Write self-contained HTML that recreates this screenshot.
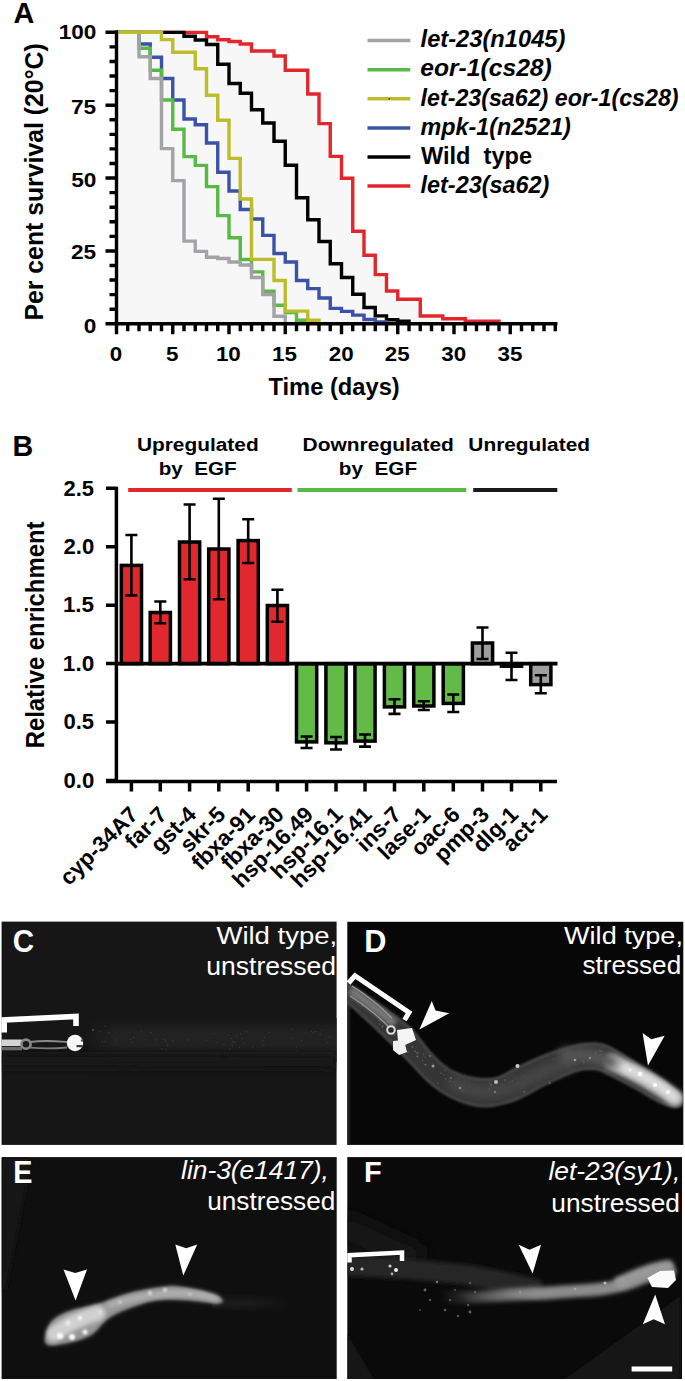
<!DOCTYPE html><html><head><meta charset="utf-8"><style>html,body{margin:0;padding:0;background:#fff;}svg{display:block;}text{font-family:"Liberation Sans",sans-serif;}</style></head><body>
<svg width="685" height="1381" viewBox="0 0 685 1381">
<defs><filter id="b1" x="-20%" y="-20%" width="140%" height="140%"><feGaussianBlur stdDeviation="1.2"/></filter><filter id="b2" x="-20%" y="-50%" width="140%" height="200%"><feGaussianBlur stdDeviation="2.5"/></filter><filter id="b3" x="-20%" y="-50%" width="140%" height="200%"><feGaussianBlur stdDeviation="5"/></filter></defs>
<rect width="685" height="1381" fill="#fff"/>
<text x="13.48" y="23.30" font-size="29.96" font-weight="bold" fill="#000" textLength="20.80" lengthAdjust="spacingAndGlyphs" xml:space="preserve">A</text>
<path d="M116.50,323.8V32.40H206.50V36.80H217.75V39.70H229.00V41.50H240.25V44.00H251.50V51.00H274.00V56.00H285.25V70.20H307.75V94.00H319.00V123.60H330.25V156.40H341.50V178.20H352.75V231.20H364.00V255.30H375.25V274.60H386.50V291.00H397.75V299.20H420.25V316.00H442.75V318.70H465.25V321.20H499.00V323.80Z" fill="#f7f7f7"/>
<path d="M116.50,32.40H206.50V36.80H217.75V39.70H229.00V41.50H240.25V44.00H251.50V51.00H274.00V56.00H285.25V70.20H307.75V94.00H319.00V123.60H330.25V156.40H341.50V178.20H352.75V231.20H364.00V255.30H375.25V274.60H386.50V291.00H397.75V299.20H420.25V316.00H442.75V318.70H465.25V321.20H499.00V323.80" fill="none" stroke="#e1262c" stroke-width="3.4" stroke-linejoin="miter" stroke-linecap="butt"/>
<path d="M116.50,32.40H184.00V36.30H195.25V40.00H206.50V44.50H217.75V64.20H229.00V83.50H240.25V93.30H251.50V109.80H262.75V123.00H274.00V141.30H285.25V165.30H296.50V197.80H307.75V219.70H319.00V241.50H330.25V263.70H341.50V277.50H352.75V294.30H364.00V307.50H375.25V315.90H386.50V319.80H397.75V321.20H409.00V323.80" fill="none" stroke="#000" stroke-width="3.4" stroke-linejoin="miter" stroke-linecap="butt"/>
<path d="M116.50,32.30H139.00V44.00H150.25V57.30H161.50V78.50H172.75V100.00H184.00V119.00H195.25V124.80H206.50V143.00H217.75V172.20H229.00V191.00H240.25V209.50H251.50V219.00H262.75V235.40H274.00V253.50H285.25V262.00H296.50V280.50H307.75V288.60H319.00V298.00H330.25V308.40H341.50V311.40H352.75V315.10H364.00V319.50H375.25V322.00H386.50V323.80" fill="none" stroke="#3a52a8" stroke-width="3.4" stroke-linejoin="miter" stroke-linecap="butt"/>
<path d="M116.50,32.30H139.00V48.20H150.25V70.20H161.50V100.00H172.75V129.20H184.00V156.60H195.25V165.40H206.50V186.60H217.75V215.60H229.00V237.80H240.25V259.50H251.50V271.90H262.75V291.30H274.00V305.30H285.25V312.50H296.50V320.30H307.75V323.80" fill="none" stroke="#58b944" stroke-width="3.4" stroke-linejoin="miter" stroke-linecap="butt"/>
<path d="M116.50,32.30H139.00V56.70H150.25V78.50H161.50V148.60H172.75V180.60H184.00V241.10H195.25V251.40H206.50V257.20H217.75V258.50H229.00V262.00H240.25V265.00H251.50V277.50H262.75V294.50H274.00V316.30H285.25V323.80" fill="none" stroke="#a2a2a7" stroke-width="3.4" stroke-linejoin="miter" stroke-linecap="butt"/>
<path d="M116.50,32.30H161.50V39.60H172.75V52.30H195.25V68.70H206.50V95.30H217.75V120.30H229.00V158.40H240.25V199.00H251.50V259.40H274.00V280.50H285.25V311.10H307.75V320.30H319.00V323.80" fill="none" stroke="#bdbd2b" stroke-width="3.4" stroke-linejoin="miter" stroke-linecap="butt"/>
<path d="M116.5,30.3V325.6 M105.5,323.8H557.5 M105.5,323.80H116.5 M109.5,309.23H116.5 M109.5,294.65H116.5 M109.5,280.07H116.5 M109.5,265.50H116.5 M105.5,250.93H116.5 M109.5,236.35H116.5 M109.5,221.78H116.5 M109.5,207.20H116.5 M109.5,192.62H116.5 M105.5,178.05H116.5 M109.5,163.48H116.5 M109.5,148.90H116.5 M109.5,134.33H116.5 M109.5,119.75H116.5 M105.5,105.18H116.5 M109.5,90.60H116.5 M109.5,76.03H116.5 M109.5,61.45H116.5 M109.5,46.88H116.5 M105.5,32.30H116.5 M116.50,323.8V334.3 M127.75,323.8V331.2 M139.00,323.8V331.2 M150.25,323.8V331.2 M161.50,323.8V331.2 M172.75,323.8V334.3 M184.00,323.8V331.2 M195.25,323.8V331.2 M206.50,323.8V331.2 M217.75,323.8V331.2 M229.00,323.8V334.3 M240.25,323.8V331.2 M251.50,323.8V331.2 M262.75,323.8V331.2 M274.00,323.8V331.2 M285.25,323.8V334.3 M296.50,323.8V331.2 M307.75,323.8V331.2 M319.00,323.8V331.2 M330.25,323.8V331.2 M341.50,323.8V334.3 M352.75,323.8V331.2 M364.00,323.8V331.2 M375.25,323.8V331.2 M386.50,323.8V331.2 M397.75,323.8V334.3 M409.00,323.8V331.2 M420.25,323.8V331.2 M431.50,323.8V331.2 M442.75,323.8V331.2 M454.00,323.8V334.3 M465.25,323.8V331.2 M476.50,323.8V331.2 M487.75,323.8V331.2 M499.00,323.8V331.2 M510.25,323.8V334.3 M521.50,323.8V331.2 M532.75,323.8V331.2 M544.00,323.8V331.2 M555.25,323.8V331.2" stroke="#000" stroke-width="3.4" fill="none"/>
<text x="58.65" y="39.10" font-size="21.10" font-weight="bold" fill="#000" textLength="37.78" lengthAdjust="spacingAndGlyphs" xml:space="preserve">100</text>
<text x="70.99" y="113.65" font-size="21.10" font-weight="bold" fill="#000" textLength="25.18" lengthAdjust="spacingAndGlyphs" xml:space="preserve">75</text>
<text x="71.27" y="186.85" font-size="21.10" font-weight="bold" fill="#000" textLength="25.18" lengthAdjust="spacingAndGlyphs" xml:space="preserve">50</text>
<text x="70.99" y="259.05" font-size="21.10" font-weight="bold" fill="#000" textLength="25.18" lengthAdjust="spacingAndGlyphs" xml:space="preserve">25</text>
<text x="83.84" y="332.65" font-size="21.10" font-weight="bold" fill="#000" textLength="12.59" lengthAdjust="spacingAndGlyphs" xml:space="preserve">0</text>
<text x="109.89" y="360.65" font-size="21.10" font-weight="bold" fill="#000" textLength="12.44" lengthAdjust="spacingAndGlyphs" xml:space="preserve">0</text>
<text x="166.12" y="360.55" font-size="21.10" font-weight="bold" fill="#000" textLength="12.44" lengthAdjust="spacingAndGlyphs" xml:space="preserve">5</text>
<text x="215.94" y="360.65" font-size="21.10" font-weight="bold" fill="#000" textLength="24.88" lengthAdjust="spacingAndGlyphs" xml:space="preserve">10</text>
<text x="272.05" y="360.55" font-size="21.10" font-weight="bold" fill="#000" textLength="24.88" lengthAdjust="spacingAndGlyphs" xml:space="preserve">15</text>
<text x="328.74" y="360.65" font-size="21.10" font-weight="bold" fill="#000" textLength="24.88" lengthAdjust="spacingAndGlyphs" xml:space="preserve">20</text>
<text x="384.85" y="360.65" font-size="21.10" font-weight="bold" fill="#000" textLength="24.88" lengthAdjust="spacingAndGlyphs" xml:space="preserve">25</text>
<text x="441.38" y="360.63" font-size="21.10" font-weight="bold" fill="#000" textLength="24.88" lengthAdjust="spacingAndGlyphs" xml:space="preserve">30</text>
<text x="497.49" y="360.63" font-size="21.10" font-weight="bold" fill="#000" textLength="24.88" lengthAdjust="spacingAndGlyphs" xml:space="preserve">35</text>
<text x="268.46" y="395.49" font-size="23.16" font-weight="bold" fill="#000" textLength="131.30" lengthAdjust="spacingAndGlyphs" xml:space="preserve">Time (days)</text>
<text transform="translate(42.69,320.57) rotate(-90)" x="0" y="0" font-size="25.09" font-weight="bold" fill="#000" textLength="277.33" lengthAdjust="spacingAndGlyphs" xml:space="preserve">Per cent survival (20°C)</text>
<path d="M367.5,40.60H410.3" stroke="#a2a2a7" stroke-width="3.5"/>
<text x="420.59" y="47.30" font-size="23.30" font-weight="bold" font-style="italic" fill="#000" textLength="144.86" lengthAdjust="spacingAndGlyphs" xml:space="preserve">let-23(n1045)</text>
<path d="M367.5,69.70H410.3" stroke="#58b944" stroke-width="3.5"/>
<text x="420.26" y="76.40" font-size="23.30" font-weight="bold" font-style="italic" fill="#000" textLength="131.51" lengthAdjust="spacingAndGlyphs" xml:space="preserve">eor-1(cs28)</text>
<path d="M367.5,98.80H410.3" stroke="#bdbd2b" stroke-width="3.5"/>
<rect x="388.6" y="98.10" width="1.4" height="1.4" fill="#222"/>
<text x="420.59" y="105.50" font-size="23.30" font-weight="bold" font-style="italic" fill="#000" textLength="257.99" lengthAdjust="spacingAndGlyphs" xml:space="preserve">let-23(sa62) eor-1(cs28)</text>
<path d="M367.5,127.90H410.3" stroke="#3a52a8" stroke-width="3.5"/>
<text x="420.59" y="134.60" font-size="23.30" font-weight="bold" font-style="italic" fill="#000" textLength="150.29" lengthAdjust="spacingAndGlyphs" xml:space="preserve">mpk-1(n2521)</text>
<path d="M367.5,157.00H410.3" stroke="#000" stroke-width="3.5"/>
<text x="420.94" y="163.70" font-size="23.30" font-weight="bold" fill="#000" textLength="111.05" lengthAdjust="spacingAndGlyphs" xml:space="preserve">Wild  type</text>
<path d="M367.5,186.10H410.3" stroke="#e1262c" stroke-width="3.5"/>
<text x="420.59" y="192.80" font-size="23.30" font-weight="bold" font-style="italic" fill="#000" textLength="128.72" lengthAdjust="spacingAndGlyphs" xml:space="preserve">let-23(sa62)</text>
<text x="12.56" y="456.20" font-size="30.25" font-weight="bold" fill="#000" textLength="20.72" lengthAdjust="spacingAndGlyphs" xml:space="preserve">B</text>
<text x="136.95" y="451.40" font-size="18.90" font-weight="bold" fill="#000" textLength="121.74" lengthAdjust="spacingAndGlyphs" xml:space="preserve">Upregulated</text>
<text x="158.66" y="474.70" font-size="18.62" font-weight="bold" fill="#000" textLength="77.98" lengthAdjust="spacingAndGlyphs" xml:space="preserve">by  EGF</text>
<text x="302.59" y="451.40" font-size="18.90" font-weight="bold" fill="#000" textLength="151.28" lengthAdjust="spacingAndGlyphs" xml:space="preserve">Downregulated</text>
<text x="338.85" y="474.70" font-size="18.62" font-weight="bold" fill="#000" textLength="78.19" lengthAdjust="spacingAndGlyphs" xml:space="preserve">by  EGF</text>
<text x="468.35" y="451.40" font-size="18.90" font-weight="bold" fill="#000" textLength="121.64" lengthAdjust="spacingAndGlyphs" xml:space="preserve">Unregulated</text>
<path d="M128.2,490H291.8" stroke="#e1262c" stroke-width="4.2"/>
<path d="M297.5,490H466.3" stroke="#58b944" stroke-width="4.2"/>
<path d="M473.2,490H557.3" stroke="#1a1a1a" stroke-width="4.2"/>
<path d="M116.4,486.8V782.8 M106,781.4H557 M106,488.25H116.4 M106,546.70H116.4 M106,605.15H116.4 M106,663.60H116.4 M106,722.05H116.4 M106,780.50H116.4" stroke="#000" stroke-width="3.5" fill="none"/>
<text x="63.53" y="495.68" font-size="21.60" font-weight="bold" fill="#000" textLength="30.47" lengthAdjust="spacingAndGlyphs" xml:space="preserve">2.5</text>
<text x="63.53" y="554.12" font-size="21.60" font-weight="bold" fill="#000" textLength="30.76" lengthAdjust="spacingAndGlyphs" xml:space="preserve">2.0</text>
<text x="62.90" y="612.47" font-size="21.60" font-weight="bold" fill="#000" textLength="31.12" lengthAdjust="spacingAndGlyphs" xml:space="preserve">1.5</text>
<text x="62.89" y="671.02" font-size="21.60" font-weight="bold" fill="#000" textLength="31.42" lengthAdjust="spacingAndGlyphs" xml:space="preserve">1.0</text>
<text x="63.42" y="729.47" font-size="21.60" font-weight="bold" fill="#000" textLength="30.59" lengthAdjust="spacingAndGlyphs" xml:space="preserve">0.5</text>
<text x="63.41" y="787.92" font-size="21.60" font-weight="bold" fill="#000" textLength="30.88" lengthAdjust="spacingAndGlyphs" xml:space="preserve">0.0</text>
<text transform="translate(44.14,748.31) rotate(-90)" x="0" y="0" font-size="26.39" font-weight="bold" fill="#000" textLength="226.74" lengthAdjust="spacingAndGlyphs" xml:space="preserve">Relative enrichment</text>
<rect x="121.30" y="565.40" width="20.20" height="98.30" fill="#e0282e" stroke="#000" stroke-width="3.5"/>
<rect x="150.20" y="612.50" width="20.20" height="51.20" fill="#e0282e" stroke="#000" stroke-width="3.5"/>
<rect x="179.50" y="542.00" width="20.20" height="121.70" fill="#e0282e" stroke="#000" stroke-width="3.5"/>
<rect x="208.70" y="549.00" width="20.20" height="114.70" fill="#e0282e" stroke="#000" stroke-width="3.5"/>
<rect x="238.10" y="540.60" width="20.20" height="123.10" fill="#e0282e" stroke="#000" stroke-width="3.5"/>
<rect x="267.30" y="605.50" width="20.20" height="58.20" fill="#e0282e" stroke="#000" stroke-width="3.5"/>
<rect x="296.50" y="663.70" width="20.20" height="78.20" fill="#62bb47" stroke="#000" stroke-width="3.5"/>
<rect x="325.90" y="663.70" width="20.20" height="79.10" fill="#62bb47" stroke="#000" stroke-width="3.5"/>
<rect x="354.90" y="663.70" width="20.20" height="77.40" fill="#62bb47" stroke="#000" stroke-width="3.5"/>
<rect x="384.40" y="663.70" width="20.20" height="43.20" fill="#62bb47" stroke="#000" stroke-width="3.5"/>
<rect x="413.70" y="663.70" width="20.20" height="42.30" fill="#62bb47" stroke="#000" stroke-width="3.5"/>
<rect x="443.20" y="663.70" width="20.20" height="39.70" fill="#62bb47" stroke="#000" stroke-width="3.5"/>
<rect x="472.40" y="643.00" width="20.20" height="20.70" fill="#9e9ea2" stroke="#000" stroke-width="3.5"/>
<rect x="501.40" y="663.70" width="20.20" height="2.50" fill="#9e9ea2" stroke="#000" stroke-width="3.5"/>
<rect x="530.70" y="663.70" width="20.20" height="20.90" fill="#9e9ea2" stroke="#000" stroke-width="3.5"/>
<path d="M131.40,535.00V595.40M125.40,535.00H137.40M125.40,595.40H137.40" stroke="#000" stroke-width="2.6" fill="none"/>
<path d="M160.30,601.50V623.20M154.30,601.50H166.30M154.30,623.20H166.30" stroke="#000" stroke-width="2.6" fill="none"/>
<path d="M189.60,504.50V579.30M183.60,504.50H195.60M183.60,579.30H195.60" stroke="#000" stroke-width="2.6" fill="none"/>
<path d="M218.80,498.70V599.20M212.80,498.70H224.80M212.80,599.20H224.80" stroke="#000" stroke-width="2.6" fill="none"/>
<path d="M248.20,519.20V563.00M242.20,519.20H254.20M242.20,563.00H254.20" stroke="#000" stroke-width="2.6" fill="none"/>
<path d="M277.40,589.80V621.80M271.40,589.80H283.40M271.40,621.80H283.40" stroke="#000" stroke-width="2.6" fill="none"/>
<path d="M306.60,736.50V748.00M300.60,736.50H312.60M300.60,748.00H312.60" stroke="#000" stroke-width="2.6" fill="none"/>
<path d="M336.00,737.00V749.50M330.00,737.00H342.00M330.00,749.50H342.00" stroke="#000" stroke-width="2.6" fill="none"/>
<path d="M365.00,734.50V746.60M359.00,734.50H371.00M359.00,746.60H371.00" stroke="#000" stroke-width="2.6" fill="none"/>
<path d="M394.50,699.30V713.90M388.50,699.30H400.50M388.50,713.90H400.50" stroke="#000" stroke-width="2.6" fill="none"/>
<path d="M423.80,701.30V710.00M417.80,701.30H429.80M417.80,710.00H429.80" stroke="#000" stroke-width="2.6" fill="none"/>
<path d="M453.30,694.50V712.00M447.30,694.50H459.30M447.30,712.00H459.30" stroke="#000" stroke-width="2.6" fill="none"/>
<path d="M482.50,627.50V659.00M476.50,627.50H488.50M476.50,659.00H488.50" stroke="#000" stroke-width="2.6" fill="none"/>
<path d="M511.50,652.80V680.00M505.50,652.80H517.50M505.50,680.00H517.50" stroke="#000" stroke-width="2.6" fill="none"/>
<path d="M540.80,675.30V693.20M534.80,675.30H546.80M534.80,693.20H546.80" stroke="#000" stroke-width="2.6" fill="none"/>
<path d="M116.4,663.7H557.5" stroke="#000" stroke-width="3.8"/>
<path d="M131.40,781.4V791.5 M160.30,781.4V791.5 M189.60,781.4V791.5 M218.80,781.4V791.5 M248.20,781.4V791.5 M277.40,781.4V791.5 M306.60,781.4V791.5 M336.00,781.4V791.5 M365.00,781.4V791.5 M394.50,781.4V791.5 M423.80,781.4V791.5 M453.30,781.4V791.5 M482.50,781.4V791.5 M511.50,781.4V791.5 M540.80,781.4V791.5" stroke="#000" stroke-width="3.5"/>
<text transform="translate(139.40,816) rotate(-45)" font-size="22.4" font-weight="bold" text-anchor="end">cyp-34A7</text>
<text transform="translate(168.30,816) rotate(-45)" font-size="22.4" font-weight="bold" text-anchor="end">far-7</text>
<text transform="translate(197.60,816) rotate(-45)" font-size="22.4" font-weight="bold" text-anchor="end">gst-4</text>
<text transform="translate(226.80,816) rotate(-45)" font-size="22.4" font-weight="bold" text-anchor="end">skr-5</text>
<text transform="translate(256.20,816) rotate(-45)" font-size="22.4" font-weight="bold" text-anchor="end">fbxa-91</text>
<text transform="translate(285.40,816) rotate(-45)" font-size="22.4" font-weight="bold" text-anchor="end">fbxa-30</text>
<text transform="translate(314.60,816) rotate(-45)" font-size="22.4" font-weight="bold" text-anchor="end">hsp-16.49</text>
<text transform="translate(344.00,816) rotate(-45)" font-size="22.4" font-weight="bold" text-anchor="end">hsp-16.1</text>
<text transform="translate(373.00,816) rotate(-45)" font-size="22.4" font-weight="bold" text-anchor="end">hsp-16.41</text>
<text transform="translate(402.50,816) rotate(-45)" font-size="22.4" font-weight="bold" text-anchor="end">ins-7</text>
<text transform="translate(431.80,816) rotate(-45)" font-size="22.4" font-weight="bold" text-anchor="end">lase-1</text>
<text transform="translate(461.30,816) rotate(-45)" font-size="22.4" font-weight="bold" text-anchor="end">oac-6</text>
<text transform="translate(490.50,816) rotate(-45)" font-size="22.4" font-weight="bold" text-anchor="end">pmp-3</text>
<text transform="translate(519.50,816) rotate(-45)" font-size="22.4" font-weight="bold" text-anchor="end">dlg-1</text>
<text transform="translate(548.80,816) rotate(-45)" font-size="22.4" font-weight="bold" text-anchor="end">act-1</text>
<defs><filter id="f06" filterUnits="userSpaceOnUse" x="0" y="0" width="685" height="1381"><feGaussianBlur stdDeviation="0.6"/></filter><filter id="f1" filterUnits="userSpaceOnUse" x="0" y="0" width="685" height="1381"><feGaussianBlur stdDeviation="1"/></filter><filter id="f2" filterUnits="userSpaceOnUse" x="0" y="0" width="685" height="1381"><feGaussianBlur stdDeviation="2"/></filter><filter id="f4" filterUnits="userSpaceOnUse" x="0" y="0" width="685" height="1381"><feGaussianBlur stdDeviation="4"/></filter><filter id="f8" filterUnits="userSpaceOnUse" x="0" y="0" width="685" height="1381"><feGaussianBlur stdDeviation="8"/></filter><clipPath id="cC"><rect x="1.6" y="921.6" width="335" height="223.3"/></clipPath><clipPath id="cD"><rect x="347.3" y="921.8" width="336" height="223.1"/></clipPath><clipPath id="cE"><rect x="1.6" y="1157.1" width="335.1" height="221.9"/></clipPath><clipPath id="cF"><rect x="347.3" y="1157.1" width="334.7" height="221.9"/></clipPath></defs>
<rect x="1.6" y="921.6" width="335" height="223.3" fill="#161616"/>
<g clip-path="url(#cC)">
<defs><linearGradient id="gC" x1="0" y1="0" x2="0" y2="1"><stop offset="0" stop-color="#161616"/><stop offset="0.35" stop-color="#222"/><stop offset="0.6" stop-color="#222"/><stop offset="1" stop-color="#161616"/></linearGradient><linearGradient id="gCx" x1="0" y1="0" x2="1" y2="0"><stop offset="0" stop-color="#161616" stop-opacity="1"/><stop offset="1" stop-color="#161616" stop-opacity="0"/></linearGradient><linearGradient id="gEt" x1="0" y1="0" x2="0" y2="1"><stop offset="0" stop-color="#0f0f0f"/><stop offset="0.5" stop-color="#1c1c1c"/><stop offset="1" stop-color="#0f0f0f"/></linearGradient><linearGradient id="gEtx" x1="0" y1="0" x2="1" y2="0"><stop offset="0" stop-color="#0f0f0f" stop-opacity="0"/><stop offset="1" stop-color="#0f0f0f" stop-opacity="1"/></linearGradient></defs>
<rect x="85" y="1018" width="252" height="44" fill="url(#gC)"/>
<rect x="85" y="1018" width="30" height="44" fill="url(#gCx)"/>
<circle cx="150.9" cy="1032.5" r="0.7" fill="#3a3a3a"/>
<circle cx="236.9" cy="1036.4" r="0.7" fill="#3a3a3a"/>
<circle cx="242.0" cy="1038.9" r="0.7" fill="#3a3a3a"/>
<circle cx="291.8" cy="1038.4" r="0.7" fill="#3a3a3a"/>
<circle cx="155.9" cy="1039.9" r="0.7" fill="#3a3a3a"/>
<circle cx="205.5" cy="1057.7" r="0.7" fill="#3a3a3a"/>
<circle cx="291.6" cy="1029.5" r="0.7" fill="#3a3a3a"/>
<circle cx="130.4" cy="1039.3" r="0.7" fill="#3a3a3a"/>
<circle cx="244.2" cy="1042.9" r="0.7" fill="#3a3a3a"/>
<circle cx="269.2" cy="1032.6" r="0.7" fill="#3a3a3a"/>
<circle cx="252.8" cy="1047.3" r="0.7" fill="#3a3a3a"/>
<circle cx="233.9" cy="1042.0" r="0.7" fill="#3a3a3a"/>
<circle cx="165.8" cy="1049.8" r="0.7" fill="#3a3a3a"/>
<circle cx="206.1" cy="1040.3" r="0.7" fill="#3a3a3a"/>
<circle cx="263.9" cy="1044.9" r="0.7" fill="#3a3a3a"/>
<circle cx="311.5" cy="1031.4" r="0.7" fill="#3a3a3a"/>
<circle cx="187.8" cy="1040.0" r="0.7" fill="#3a3a3a"/>
<circle cx="314.9" cy="1031.8" r="0.7" fill="#3a3a3a"/>
<circle cx="301.5" cy="1040.7" r="0.7" fill="#3a3a3a"/>
<circle cx="146.0" cy="1039.9" r="0.7" fill="#3a3a3a"/>
<circle cx="321.9" cy="1030.2" r="0.7" fill="#3a3a3a"/>
<circle cx="165.7" cy="1041.3" r="0.7" fill="#3a3a3a"/>
<circle cx="214.2" cy="1033.8" r="0.7" fill="#3a3a3a"/>
<circle cx="232.5" cy="1041.7" r="0.7" fill="#3a3a3a"/>
<circle cx="232.3" cy="1045.5" r="0.7" fill="#3a3a3a"/>
<circle cx="313.3" cy="1032.9" r="0.7" fill="#3a3a3a"/>
<circle cx="296.3" cy="1046.9" r="0.7" fill="#3a3a3a"/>
<circle cx="133.3" cy="1037.5" r="0.7" fill="#3a3a3a"/>
<circle cx="297.2" cy="1050.7" r="0.7" fill="#3a3a3a"/>
<circle cx="228.7" cy="1035.1" r="0.7" fill="#3a3a3a"/>
<circle cx="262.7" cy="1040.7" r="0.7" fill="#3a3a3a"/>
<circle cx="229.8" cy="1049.0" r="0.7" fill="#3a3a3a"/>
<circle cx="162.0" cy="1048.8" r="0.7" fill="#3a3a3a"/>
<circle cx="327.6" cy="1042.6" r="0.7" fill="#3a3a3a"/>
<circle cx="115.8" cy="1039.9" r="0.7" fill="#3a3a3a"/>
<circle cx="130.4" cy="1032.1" r="0.7" fill="#3a3a3a"/>
<circle cx="164.1" cy="1039.4" r="0.7" fill="#3a3a3a"/>
<circle cx="105.4" cy="1025.9" r="0.7" fill="#3a3a3a"/>
<circle cx="239.4" cy="1047.2" r="0.7" fill="#3a3a3a"/>
<circle cx="172.8" cy="1040.7" r="0.7" fill="#3a3a3a"/>
<circle cx="302.0" cy="1045.1" r="0.7" fill="#3a3a3a"/>
<circle cx="329.6" cy="1037.1" r="0.7" fill="#3a3a3a"/>
<circle cx="167.8" cy="1045.2" r="0.7" fill="#3a3a3a"/>
<circle cx="102.4" cy="1041.8" r="0.7" fill="#3a3a3a"/>
<circle cx="141.4" cy="1031.1" r="0.7" fill="#3a3a3a"/>
<circle cx="131.7" cy="1042.5" r="0.7" fill="#3a3a3a"/>
<circle cx="105.0" cy="1041.5" r="0.7" fill="#3a3a3a"/>
<circle cx="320.3" cy="1034.2" r="0.7" fill="#3a3a3a"/>
<circle cx="305.7" cy="1033.2" r="0.7" fill="#3a3a3a"/>
<circle cx="217.2" cy="1042.6" r="0.7" fill="#3a3a3a"/>
<circle cx="246.3" cy="1031.7" r="0.7" fill="#3a3a3a"/>
<circle cx="240.7" cy="1033.7" r="0.7" fill="#3a3a3a"/>
<circle cx="316.0" cy="1031.6" r="0.7" fill="#3a3a3a"/>
<circle cx="264.3" cy="1037.7" r="0.7" fill="#3a3a3a"/>
<circle cx="150.8" cy="1032.8" r="0.7" fill="#3a3a3a"/>
<circle cx="217.5" cy="1053.7" r="0.7" fill="#3a3a3a"/>
<circle cx="223.9" cy="1044.2" r="0.7" fill="#3a3a3a"/>
<circle cx="231.3" cy="1038.4" r="0.7" fill="#3a3a3a"/>
<circle cx="99.7" cy="1031.7" r="0.7" fill="#3a3a3a"/>
<circle cx="109.1" cy="1032.4" r="0.7" fill="#3a3a3a"/>
<path d="M0,1061 L336,1062" stroke="#121212" stroke-width="14" filter="url(#f4)"/>
<g filter="url(#f06)"><path d="M1.6,1042.7 H21" stroke="#d4d4d4" stroke-width="6.5" stroke-linecap="round"/><path d="M1.6,1048.6 H22" stroke="#6a6a6a" stroke-width="3.5"/><circle cx="26" cy="1044.2" r="4.6" fill="#1e1e1e" stroke="#8a8a8a" stroke-width="2.6"/><path d="M30,1042 C45,1040 55,1041 67,1042" stroke="#8a8a8a" stroke-width="1.8" fill="none"/><path d="M30,1047.6 C45,1049 55,1048.5 67,1047.5" stroke="#7a7a7a" stroke-width="1.8" fill="none"/><ellipse cx="75" cy="1043" rx="8.2" ry="8.3" fill="#f6f6f6"/><path d="M76.5,1045 h6 v2.2 h-6 z" fill="#3a3a3a"/><circle cx="82" cy="1040.5" r="1.2" fill="#555"/></g>
<circle cx="93" cy="1030" r="1" fill="#555"/>
</g>
<path d="M4.2,1032.5 V1020 L76,1016.5 V1026" stroke="#fff" stroke-width="5.6" fill="none" stroke-linejoin="miter" stroke-linecap="butt" filter="url(#f06)"/>
<text x="12.82" y="952.28" font-size="31.66" font-weight="bold" fill="#fff" textLength="21.28" lengthAdjust="spacingAndGlyphs" xml:space="preserve">C</text>
<text x="216.46" y="943.80" font-size="24.83" fill="#fff" textLength="120.72" lengthAdjust="spacingAndGlyphs" xml:space="preserve">Wild type,</text>
<text x="206.38" y="975.20" font-size="26.00" fill="#fff" textLength="129.62" lengthAdjust="spacingAndGlyphs" xml:space="preserve">unstressed</text>
<rect x="347.3" y="921.8" width="336" height="223.1" fill="#070707"/>
<g clip-path="url(#cD)">
<rect x="347.3" y="1005" width="3" height="140" fill="#1e1e1e"/>
<path d="M340.0,980.0C341.2,977.7 341.7,980.7 347.0,984.0C352.3,987.3 364.0,994.7 372.0,1000.0C380.0,1005.3 388.2,1010.8 395.0,1016.0C401.8,1021.2 407.5,1025.3 413.0,1031.0C418.5,1036.7 422.8,1044.2 428.0,1050.0C433.2,1055.8 438.7,1061.8 444.0,1066.0C449.3,1070.2 454.3,1072.8 460.0,1075.0C465.7,1077.2 471.8,1078.5 478.0,1079.0C484.2,1079.5 490.5,1079.8 497.0,1078.0C503.5,1076.2 508.8,1071.8 517.0,1068.0C525.2,1064.2 536.3,1058.7 546.0,1055.0C555.7,1051.3 566.0,1047.8 575.0,1046.0C584.0,1044.2 592.5,1042.8 600.0,1044.0C607.5,1045.2 613.3,1049.3 620.0,1053.0C626.7,1056.7 633.0,1061.5 640.0,1066.0C647.0,1070.5 655.8,1075.5 662.0,1080.0C668.2,1084.5 673.8,1089.7 677.0,1093.0C680.2,1096.3 680.7,1097.8 681.0,1100.0C681.3,1102.2 682.2,1105.5 679.0,1106.0C675.8,1106.5 669.3,1106.0 662.0,1103.0C654.7,1100.0 644.0,1092.8 635.0,1088.0C626.0,1083.2 614.5,1077.2 608.0,1074.0C601.5,1070.8 601.5,1069.5 596.0,1069.0C590.5,1068.5 583.3,1068.5 575.0,1071.0C566.7,1073.5 555.7,1079.3 546.0,1084.0C536.3,1088.7 526.3,1095.3 517.0,1099.0C507.7,1102.7 498.5,1105.3 490.0,1106.0C481.5,1106.7 473.7,1105.2 466.0,1103.0C458.3,1100.8 450.7,1097.0 444.0,1093.0C437.3,1089.0 432.2,1084.7 426.0,1079.0C419.8,1073.3 414.3,1066.5 407.0,1059.0C399.7,1051.5 389.0,1040.8 382.0,1034.0C375.0,1027.2 370.8,1023.3 365.0,1018.0C359.2,1012.7 351.2,1005.3 347.0,1002.0C342.8,998.7 341.2,1001.7 340.0,998.0C338.8,994.3 338.8,982.3 340.0,980.0Z" fill="#353535" stroke="#4a4a4a" stroke-width="2.5" filter="url(#f1)"/>
<circle cx="357.1" cy="1002.6" r="1.0" fill="rgb(74,74,74)"/>
<circle cx="352.1" cy="1000.0" r="0.5" fill="rgb(107,107,107)"/>
<circle cx="361.2" cy="1006.8" r="0.6" fill="rgb(74,74,74)"/>
<circle cx="362.1" cy="1004.0" r="1.0" fill="rgb(73,73,73)"/>
<circle cx="352.7" cy="996.3" r="0.8" fill="rgb(73,73,73)"/>
<circle cx="358.7" cy="1006.4" r="0.5" fill="rgb(84,84,84)"/>
<circle cx="368.9" cy="1007.8" r="0.8" fill="rgb(77,77,77)"/>
<circle cx="362.3" cy="1005.5" r="0.6" fill="rgb(113,113,113)"/>
<circle cx="362.8" cy="1000.7" r="0.9" fill="rgb(105,105,105)"/>
<circle cx="362.4" cy="999.8" r="0.6" fill="rgb(109,109,109)"/>
<circle cx="387.6" cy="1021.8" r="1.1" fill="rgb(107,107,107)"/>
<circle cx="380.3" cy="1020.3" r="1.0" fill="rgb(85,85,85)"/>
<circle cx="388.1" cy="1025.9" r="0.8" fill="rgb(103,103,103)"/>
<circle cx="379.9" cy="1024.1" r="0.7" fill="rgb(98,98,98)"/>
<circle cx="394.5" cy="1035.0" r="0.7" fill="rgb(118,118,118)"/>
<circle cx="393.5" cy="1033.8" r="0.5" fill="rgb(96,96,96)"/>
<circle cx="387.4" cy="1025.6" r="0.7" fill="rgb(90,90,90)"/>
<circle cx="380.1" cy="1012.5" r="0.8" fill="rgb(101,101,101)"/>
<circle cx="382.5" cy="1026.4" r="0.9" fill="rgb(100,100,100)"/>
<circle cx="373.5" cy="1003.2" r="0.9" fill="rgb(116,116,116)"/>
<circle cx="407.9" cy="1052.0" r="0.9" fill="rgb(88,88,88)"/>
<circle cx="412.7" cy="1047.6" r="0.5" fill="rgb(92,92,92)"/>
<circle cx="404.2" cy="1041.4" r="0.6" fill="rgb(73,73,73)"/>
<circle cx="400.7" cy="1039.1" r="0.6" fill="rgb(117,117,117)"/>
<circle cx="402.8" cy="1040.3" r="0.7" fill="rgb(98,98,98)"/>
<circle cx="400.6" cy="1035.7" r="1.0" fill="rgb(78,78,78)"/>
<circle cx="412.3" cy="1046.7" r="0.9" fill="rgb(92,92,92)"/>
<circle cx="402.6" cy="1043.4" r="0.6" fill="rgb(84,84,84)"/>
<circle cx="398.5" cy="1035.5" r="1.0" fill="rgb(101,101,101)"/>
<circle cx="398.6" cy="1038.5" r="0.5" fill="rgb(88,88,88)"/>
<circle cx="423.4" cy="1054.4" r="0.9" fill="rgb(78,78,78)"/>
<circle cx="425.3" cy="1064.6" r="0.9" fill="rgb(109,109,109)"/>
<circle cx="429.8" cy="1056.0" r="1.0" fill="rgb(113,113,113)"/>
<circle cx="422.8" cy="1060.3" r="0.7" fill="rgb(95,95,95)"/>
<circle cx="424.6" cy="1057.3" r="0.8" fill="rgb(83,83,83)"/>
<circle cx="417.2" cy="1053.9" r="0.5" fill="rgb(108,108,108)"/>
<circle cx="415.0" cy="1051.2" r="0.9" fill="rgb(93,93,93)"/>
<circle cx="416.4" cy="1053.1" r="0.9" fill="rgb(83,83,83)"/>
<circle cx="418.0" cy="1052.9" r="0.8" fill="rgb(93,93,93)"/>
<circle cx="417.3" cy="1056.5" r="1.1" fill="rgb(101,101,101)"/>
<circle cx="444.3" cy="1075.1" r="0.9" fill="rgb(76,76,76)"/>
<circle cx="449.8" cy="1081.3" r="1.0" fill="rgb(100,100,100)"/>
<circle cx="438.2" cy="1083.4" r="0.7" fill="rgb(103,103,103)"/>
<circle cx="448.8" cy="1081.9" r="1.0" fill="rgb(71,71,71)"/>
<circle cx="441.0" cy="1073.2" r="0.8" fill="rgb(86,86,86)"/>
<circle cx="453.2" cy="1082.1" r="1.0" fill="rgb(92,92,92)"/>
<circle cx="445.7" cy="1078.7" r="0.9" fill="rgb(84,84,84)"/>
<circle cx="450.8" cy="1077.9" r="1.0" fill="rgb(118,118,118)"/>
<circle cx="451.1" cy="1085.2" r="0.6" fill="rgb(84,84,84)"/>
<circle cx="444.9" cy="1070.7" r="0.5" fill="rgb(116,116,116)"/>
<circle cx="455.6" cy="1084.6" r="0.9" fill="rgb(114,114,114)"/>
<circle cx="462.9" cy="1090.8" r="1.1" fill="rgb(116,116,116)"/>
<circle cx="477.0" cy="1089.6" r="0.8" fill="rgb(84,84,84)"/>
<circle cx="462.8" cy="1089.8" r="0.9" fill="rgb(100,100,100)"/>
<circle cx="475.7" cy="1094.1" r="0.7" fill="rgb(111,111,111)"/>
<circle cx="469.8" cy="1085.2" r="0.6" fill="rgb(112,112,112)"/>
<circle cx="463.9" cy="1087.0" r="0.8" fill="rgb(81,81,81)"/>
<circle cx="469.6" cy="1086.5" r="1.0" fill="rgb(75,75,75)"/>
<circle cx="477.3" cy="1088.2" r="0.9" fill="rgb(75,75,75)"/>
<circle cx="458.9" cy="1089.0" r="0.5" fill="rgb(78,78,78)"/>
<circle cx="491.0" cy="1085.0" r="1.0" fill="rgb(109,109,109)"/>
<circle cx="499.6" cy="1092.4" r="1.1" fill="rgb(112,112,112)"/>
<circle cx="481.4" cy="1091.0" r="0.9" fill="rgb(116,116,116)"/>
<circle cx="489.6" cy="1091.2" r="0.8" fill="rgb(78,78,78)"/>
<circle cx="497.2" cy="1092.6" r="0.6" fill="rgb(86,86,86)"/>
<circle cx="489.0" cy="1088.7" r="0.9" fill="rgb(118,118,118)"/>
<circle cx="483.7" cy="1089.7" r="0.7" fill="rgb(117,117,117)"/>
<circle cx="488.1" cy="1092.7" r="1.0" fill="rgb(107,107,107)"/>
<circle cx="489.4" cy="1095.8" r="0.8" fill="rgb(78,78,78)"/>
<circle cx="489.5" cy="1083.3" r="1.0" fill="rgb(71,71,71)"/>
<circle cx="515.5" cy="1078.7" r="0.6" fill="rgb(79,79,79)"/>
<circle cx="509.5" cy="1082.3" r="0.6" fill="rgb(116,116,116)"/>
<circle cx="501.2" cy="1088.2" r="1.0" fill="rgb(100,100,100)"/>
<circle cx="502.1" cy="1085.1" r="0.5" fill="rgb(105,105,105)"/>
<circle cx="503.8" cy="1091.4" r="0.8" fill="rgb(98,98,98)"/>
<circle cx="515.2" cy="1085.5" r="0.8" fill="rgb(74,74,74)"/>
<circle cx="512.3" cy="1080.7" r="0.7" fill="rgb(114,114,114)"/>
<circle cx="510.2" cy="1086.7" r="0.8" fill="rgb(100,100,100)"/>
<circle cx="505.0" cy="1079.9" r="1.1" fill="rgb(86,86,86)"/>
<circle cx="517.9" cy="1082.5" r="1.0" fill="rgb(82,82,82)"/>
<circle cx="523.6" cy="1084.7" r="0.9" fill="rgb(74,74,74)"/>
<circle cx="531.1" cy="1080.8" r="0.9" fill="rgb(83,83,83)"/>
<circle cx="540.4" cy="1074.9" r="0.9" fill="rgb(115,115,115)"/>
<circle cx="529.5" cy="1076.7" r="1.0" fill="rgb(86,86,86)"/>
<circle cx="545.2" cy="1072.5" r="1.0" fill="rgb(95,95,95)"/>
<circle cx="524.2" cy="1091.8" r="1.0" fill="rgb(112,112,112)"/>
<circle cx="524.2" cy="1076.0" r="0.8" fill="rgb(91,91,91)"/>
<circle cx="529.3" cy="1080.6" r="0.9" fill="rgb(75,75,75)"/>
<circle cx="520.5" cy="1078.2" r="0.7" fill="rgb(71,71,71)"/>
<circle cx="533.5" cy="1074.7" r="0.8" fill="rgb(88,88,88)"/>
<circle cx="547.9" cy="1077.2" r="0.6" fill="rgb(76,76,76)"/>
<circle cx="553.9" cy="1066.3" r="0.6" fill="rgb(119,119,119)"/>
<circle cx="567.9" cy="1065.4" r="1.0" fill="rgb(113,113,113)"/>
<circle cx="553.5" cy="1059.2" r="0.8" fill="rgb(79,79,79)"/>
<circle cx="560.9" cy="1060.3" r="0.5" fill="rgb(87,87,87)"/>
<circle cx="566.0" cy="1062.6" r="1.0" fill="rgb(97,97,97)"/>
<circle cx="553.8" cy="1069.0" r="0.6" fill="rgb(86,86,86)"/>
<circle cx="570.8" cy="1060.8" r="0.7" fill="rgb(74,74,74)"/>
<circle cx="549.5" cy="1083.1" r="1.1" fill="rgb(96,96,96)"/>
<circle cx="553.8" cy="1068.1" r="0.5" fill="rgb(78,78,78)"/>
<circle cx="592.7" cy="1068.6" r="0.5" fill="rgb(86,86,86)"/>
<circle cx="580.0" cy="1054.1" r="0.9" fill="rgb(89,89,89)"/>
<circle cx="588.3" cy="1059.3" r="0.6" fill="rgb(113,113,113)"/>
<circle cx="583.7" cy="1063.0" r="1.1" fill="rgb(71,71,71)"/>
<circle cx="575.9" cy="1064.2" r="0.8" fill="rgb(82,82,82)"/>
<circle cx="581.1" cy="1059.1" r="0.6" fill="rgb(98,98,98)"/>
<circle cx="595.5" cy="1052.6" r="1.1" fill="rgb(95,95,95)"/>
<circle cx="582.7" cy="1060.6" r="1.1" fill="rgb(83,83,83)"/>
<circle cx="583.6" cy="1061.8" r="0.6" fill="rgb(110,110,110)"/>
<circle cx="599.7" cy="1050.9" r="1.0" fill="rgb(73,73,73)"/>
<circle cx="600.3" cy="1050.6" r="0.6" fill="rgb(97,97,97)"/>
<circle cx="601.7" cy="1051.2" r="1.0" fill="rgb(94,94,94)"/>
<circle cx="613.4" cy="1062.4" r="0.5" fill="rgb(88,88,88)"/>
<circle cx="603.7" cy="1062.0" r="0.8" fill="rgb(87,87,87)"/>
<circle cx="605.3" cy="1071.1" r="0.7" fill="rgb(105,105,105)"/>
<circle cx="600.7" cy="1054.4" r="0.6" fill="rgb(89,89,89)"/>
<circle cx="603.7" cy="1057.7" r="0.8" fill="rgb(87,87,87)"/>
<circle cx="604.0" cy="1060.4" r="1.0" fill="rgb(102,102,102)"/>
<circle cx="601.8" cy="1058.8" r="0.5" fill="rgb(107,107,107)"/>
<circle cx="600.4" cy="1054.9" r="0.9" fill="rgb(89,89,89)"/>
<circle cx="621.7" cy="1075.4" r="0.9" fill="rgb(79,79,79)"/>
<circle cx="634.3" cy="1071.6" r="0.7" fill="rgb(108,108,108)"/>
<circle cx="626.5" cy="1072.1" r="0.9" fill="rgb(116,116,116)"/>
<circle cx="622.9" cy="1067.3" r="1.0" fill="rgb(115,115,115)"/>
<circle cx="632.5" cy="1072.1" r="1.0" fill="rgb(78,78,78)"/>
<circle cx="635.1" cy="1066.1" r="1.0" fill="rgb(106,106,106)"/>
<circle cx="636.1" cy="1077.6" r="0.9" fill="rgb(115,115,115)"/>
<circle cx="633.9" cy="1068.3" r="0.6" fill="rgb(84,84,84)"/>
<circle cx="620.8" cy="1059.0" r="1.0" fill="rgb(94,94,94)"/>
<circle cx="631.2" cy="1063.5" r="0.5" fill="rgb(110,110,110)"/>
<circle cx="650.6" cy="1084.0" r="1.0" fill="rgb(99,99,99)"/>
<circle cx="655.0" cy="1090.2" r="1.0" fill="rgb(102,102,102)"/>
<circle cx="641.8" cy="1070.8" r="0.7" fill="rgb(100,100,100)"/>
<circle cx="641.5" cy="1076.8" r="0.6" fill="rgb(86,86,86)"/>
<circle cx="655.1" cy="1087.6" r="0.8" fill="rgb(99,99,99)"/>
<circle cx="647.7" cy="1088.4" r="1.0" fill="rgb(100,100,100)"/>
<circle cx="645.7" cy="1086.8" r="0.5" fill="rgb(82,82,82)"/>
<circle cx="642.9" cy="1080.8" r="0.9" fill="rgb(86,86,86)"/>
<circle cx="653.9" cy="1084.3" r="0.5" fill="rgb(100,100,100)"/>
<circle cx="645.4" cy="1078.8" r="0.6" fill="rgb(113,113,113)"/>
<path d="M450,1082 C470,1092 490,1095 510,1088 C530,1078 550,1068 575,1062" stroke="#444" stroke-width="14" fill="none" filter="url(#f4)"/>
<path d="M350,990 C365,1000 380,1012 395,1024" stroke="#777" stroke-width="9" fill="none" filter="url(#f2)"/>
<path d="M352,986 C368,996 380,1006 392,1018 M350,996 C366,1006 378,1016 390,1028" stroke="#9a9a9a" stroke-width="1.3" fill="none" filter="url(#f06)"/>
<path d="M612,1062 C635,1072 655,1083 675,1098" stroke="#b8b8b8" stroke-width="17" fill="none" stroke-linecap="round" filter="url(#f2)"/>
<path d="M625,1068 C645,1076 660,1085 674,1097" stroke="#dcdcdc" stroke-width="9" fill="none" stroke-linecap="round" filter="url(#f2)"/>
<path d="M560,1056 C580,1053 600,1057 615,1064" stroke="#555" stroke-width="14" fill="none" filter="url(#f4)"/>
<circle cx="517.5" cy="1066" r="2" fill="#ccc" filter="url(#f06)"/>
<circle cx="433" cy="1066" r="1.5" fill="#999" filter="url(#f06)"/>
<circle cx="460" cy="1088" r="1.3" fill="#888" filter="url(#f06)"/>
<circle cx="575" cy="1060" r="1.3" fill="#999" filter="url(#f06)"/>
<circle cx="590" cy="1058" r="1.2" fill="#888" filter="url(#f06)"/>
<circle cx="495" cy="1092" r="1.2" fill="#777" filter="url(#f06)"/>
<circle cx="496" cy="1082" r="2" fill="#bbb" filter="url(#f06)"/>
<circle cx="640" cy="1074" r="2.2" fill="#fff" filter="url(#f06)"/>
<circle cx="655" cy="1085" r="2" fill="#fff" filter="url(#f06)"/>
<circle cx="668" cy="1092" r="2" fill="#fff" filter="url(#f06)"/>
<circle cx="630" cy="1070" r="1.8" fill="#eee" filter="url(#f06)"/>
<g filter="url(#f06)"><path d="M397,1030 L412,1028 L416,1040 L405,1045 L398,1041 Z" fill="#f5f5f5"/><path d="M393,1041 L404,1040 L407,1052 L399,1055 L393,1050 Z" fill="#f0f0f0"/><circle cx="391" cy="1030" r="3.8" fill="#2a2a2a" stroke="#ddd" stroke-width="2"/></g>
</g>
<path d="M348.5,983 L355,975.8 L409,1012.5 L404.5,1020" stroke="#fff" stroke-width="5" fill="none" stroke-linejoin="miter" filter="url(#f06)"/>
<path d="M419.4,1029.5 L431.8,1001 L435.5,1010.5 L449.2,1013.3 Z" fill="#fff" filter="url(#f06)"/>
<path d="M648,1065.4 L642.6,1033 L651.2,1039.2 L664.7,1035.7 Z" fill="#fff" filter="url(#f06)"/>
<text x="364.13" y="951.70" font-size="31.13" font-weight="bold" fill="#fff" textLength="22.17" lengthAdjust="spacingAndGlyphs" xml:space="preserve">D</text>
<text x="564.06" y="943.50" font-size="24.69" fill="#fff" textLength="118.88" lengthAdjust="spacingAndGlyphs" xml:space="preserve">Wild type,</text>
<text x="582.48" y="974.20" font-size="26.00" fill="#fff" textLength="98.70" lengthAdjust="spacingAndGlyphs" xml:space="preserve">stressed</text>
<rect x="1.6" y="1157.1" width="335.1" height="221.9" fill="#0f0f0f"/>
<g clip-path="url(#cE)">
<path d="M1.6,1157.1 H32 L6,1290 H1.6 Z" fill="#191919" filter="url(#f2)"/>
<path d="M212,1293 L290,1297 L290,1313 L212,1309 Z" fill="url(#gEt)"/>
<rect x="250" y="1290" width="42" height="26" fill="url(#gEtx)"/>
<path d="M45.8,1337.8C46.8,1334.4 47.8,1326.1 51.7,1321.7C55.6,1317.3 61.4,1314.4 69.2,1311.5C77.0,1308.6 88.7,1307.1 98.4,1304.2C108.1,1301.3 117.9,1296.7 127.6,1294.0C137.3,1291.3 148.5,1289.3 156.8,1288.1C165.1,1286.9 169.9,1286.2 177.2,1286.7C184.5,1287.2 193.8,1289.3 200.6,1291.0C207.4,1292.7 214.4,1295.2 218.1,1296.9C221.8,1298.6 223.0,1300.3 222.5,1301.3C222.0,1302.3 221.3,1303.0 215.2,1302.7C209.1,1302.5 195.7,1300.3 186.0,1299.8C176.3,1299.3 166.5,1298.3 156.8,1299.8C147.1,1301.3 135.9,1305.4 127.6,1308.6C119.3,1311.8 113.0,1314.7 107.2,1318.8C101.4,1322.9 98.0,1329.8 92.6,1333.4C87.2,1337.1 81.8,1338.8 75.0,1340.7C68.2,1342.6 56.6,1344.8 51.7,1345.0C46.8,1345.2 46.8,1343.4 45.8,1342.2C44.8,1341.0 44.8,1341.2 45.8,1337.8Z" fill="#959595" filter="url(#f2)"/>
<path d="M45.8,1337.8C46.8,1334.4 47.8,1326.1 51.7,1321.7C55.6,1317.3 61.4,1314.4 69.2,1311.5C77.0,1308.6 88.7,1307.1 98.4,1304.2C108.1,1301.3 117.9,1296.7 127.6,1294.0C137.3,1291.3 148.5,1289.3 156.8,1288.1C165.1,1286.9 169.9,1286.2 177.2,1286.7C184.5,1287.2 193.8,1289.3 200.6,1291.0C207.4,1292.7 214.4,1295.2 218.1,1296.9C221.8,1298.6 223.0,1300.3 222.5,1301.3C222.0,1302.3 221.3,1303.0 215.2,1302.7C209.1,1302.5 195.7,1300.3 186.0,1299.8C176.3,1299.3 166.5,1298.3 156.8,1299.8C147.1,1301.3 135.9,1305.4 127.6,1308.6C119.3,1311.8 113.0,1314.7 107.2,1318.8C101.4,1322.9 98.0,1329.8 92.6,1333.4C87.2,1337.1 81.8,1338.8 75.0,1340.7C68.2,1342.6 56.6,1344.8 51.7,1345.0C46.8,1345.2 46.8,1343.4 45.8,1342.2C44.8,1341.0 44.8,1341.2 45.8,1337.8Z" fill="#9a9a9a" filter="url(#f1)" opacity="0.6"/>
<path d="M54,1334 C62,1328 75,1320 98,1313" stroke="#d0d0d0" stroke-width="15" fill="none" stroke-linecap="round" filter="url(#f2)"/>
<path d="M110,1305 C130,1298 155,1293 185,1293 C200,1294 210,1296 216,1299" stroke="#b0b0b0" stroke-width="6" fill="none" stroke-linecap="round" filter="url(#f2)"/>
<circle cx="60" cy="1336" r="3" fill="#fff" filter="url(#f1)"/>
<circle cx="72" cy="1337" r="3" fill="#fff" filter="url(#f1)"/>
<circle cx="85" cy="1332" r="2.5" fill="#f4f4f4" filter="url(#f1)"/>
<circle cx="68" cy="1323" r="2.5" fill="#eee" filter="url(#f1)"/>
<circle cx="80" cy="1318" r="2" fill="#fff" filter="url(#f1)"/>
<circle cx="150" cy="1293" r="2" fill="#ddd" filter="url(#f1)"/>
<circle cx="165" cy="1290" r="2" fill="#ddd" filter="url(#f1)"/>
<circle cx="190" cy="1294" r="1.6" fill="#ccc" filter="url(#f1)"/>
<circle cx="120" cy="1302" r="2" fill="#ccc" filter="url(#f1)"/>
<circle cx="100" cy="1312" r="2" fill="#e0e0e0" filter="url(#f1)"/>
</g>
<path d="M63.5,1269.6 L75.3,1273 L87,1269.6 L75.6,1300.5 Z" fill="#fff" filter="url(#f06)"/>
<path d="M175.3,1244.6 L186.2,1248.2 L197.2,1244.6 L183.3,1275.6 Z" fill="#fff" filter="url(#f06)"/>
<text x="13.36" y="1182.60" font-size="31.13" font-weight="bold" fill="#fff" textLength="19.18" lengthAdjust="spacingAndGlyphs" xml:space="preserve">E</text>
<text x="181.14" y="1179.30" font-size="26.00" font-style="italic" fill="#fff" textLength="147.67" lengthAdjust="spacingAndGlyphs" xml:space="preserve">lin-3(e1417),</text>
<text x="207.20" y="1210.20" font-size="26.00" fill="#fff" textLength="128.19" lengthAdjust="spacingAndGlyphs" xml:space="preserve">unstressed</text>
<rect x="347.3" y="1157.1" width="334.7" height="221.9" fill="#0a0a0a"/>
<g clip-path="url(#cF)">
<path d="M347.3,1334 L375,1381 H347.3 Z" fill="#171717" filter="url(#f1)"/>
<path d="M562,1381 L680,1296 V1381 Z" fill="#131313" filter="url(#f1)"/>
<path d="M340,1225 C370,1240 395,1252 420,1262" stroke="#161616" stroke-width="30" fill="none" filter="url(#f8)"/>
<path d="M347,1266 C380,1267 420,1270 460,1274 C490,1278 515,1284 540,1290" stroke="#262626" stroke-width="20" fill="none" filter="url(#f2)"/>
<defs><linearGradient id="gF1" gradientUnits="userSpaceOnUse" x1="440" y1="0" x2="530" y2="0"><stop offset="0" stop-color="#7a7a7a" stop-opacity="0"/><stop offset="1" stop-color="#7a7a7a" stop-opacity="1"/></linearGradient><linearGradient id="gF2" gradientUnits="userSpaceOnUse" x1="460" y1="0" x2="540" y2="0"><stop offset="0" stop-color="#909090" stop-opacity="0"/><stop offset="1" stop-color="#909090" stop-opacity="1"/></linearGradient></defs>
<path d="M430.0,1297.0C436.7,1297.0 460.0,1297.2 470.0,1297.0C480.0,1296.8 481.7,1296.5 490.0,1296.0C498.3,1295.5 510.5,1294.5 520.0,1294.0C529.5,1293.5 537.8,1293.5 547.0,1293.0C556.2,1292.5 566.0,1291.7 575.0,1291.0C584.0,1290.3 592.5,1290.2 601.0,1289.0C609.5,1287.8 618.2,1286.2 626.0,1284.0C633.8,1281.8 640.7,1278.0 648.0,1276.0C655.3,1274.0 666.3,1272.7 670.0,1272.0" stroke="url(#gF1)" stroke-width="13" fill="none" stroke-linecap="round" filter="url(#f2)"/>
<path d="M430.0,1297.0C436.7,1297.0 460.0,1297.2 470.0,1297.0C480.0,1296.8 481.7,1296.5 490.0,1296.0C498.3,1295.5 510.5,1294.5 520.0,1294.0C529.5,1293.5 537.8,1293.5 547.0,1293.0C556.2,1292.5 566.0,1291.7 575.0,1291.0C584.0,1290.3 592.5,1290.2 601.0,1289.0C609.5,1287.8 618.2,1286.2 626.0,1284.0C633.8,1281.8 640.7,1278.0 648.0,1276.0C655.3,1274.0 666.3,1272.7 670.0,1272.0" stroke="url(#gF2)" stroke-width="6" fill="none" stroke-linecap="round" filter="url(#f2)"/>
<path d="M620,1282 C635,1276 650,1268 668,1266" stroke="#999" stroke-width="12" fill="none" stroke-linecap="round" filter="url(#f2)"/>
<path d="M647.4,1278 L660,1271 L674,1270.4 L676,1280 L668,1288 L652,1287 Z" fill="#fafafa" filter="url(#f06)"/>
<circle cx="352" cy="1269" r="2" fill="#ddd" filter="url(#f06)"/>
<circle cx="362" cy="1269" r="1.6" fill="#bbb" filter="url(#f06)"/>
<circle cx="390" cy="1266" r="1.6" fill="#ccc" filter="url(#f06)"/>
<circle cx="396" cy="1270" r="2" fill="#eee" filter="url(#f06)"/>
<circle cx="392" cy="1274" r="1.4" fill="#aaa" filter="url(#f06)"/>
<circle cx="437" cy="1282" r="1.2" fill="#777" filter="url(#f06)"/>
<circle cx="450" cy="1300" r="1.2" fill="#555" filter="url(#f06)"/>
<circle cx="468" cy="1305" r="1.2" fill="#555" filter="url(#f06)"/>
<circle cx="475" cy="1292" r="1.2" fill="#555" filter="url(#f06)"/>
<circle cx="425" cy="1290" r="1.4" fill="#666" filter="url(#f06)"/>
<circle cx="430" cy="1300" r="1.2" fill="#555" filter="url(#f06)"/>
<circle cx="445" cy="1310" r="1.3" fill="#5a5a5a" filter="url(#f06)"/>
<circle cx="458" cy="1316" r="1.2" fill="#555" filter="url(#f06)"/>
<circle cx="470" cy="1312" r="1.4" fill="#666" filter="url(#f06)"/>
<circle cx="455" cy="1290" r="1.1" fill="#555" filter="url(#f06)"/>
<circle cx="420" cy="1310" r="1.1" fill="#4a4a4a" filter="url(#f06)"/>
<circle cx="470" cy="1283" r="1.2" fill="#555" filter="url(#f06)"/>
<circle cx="605" cy="1283" r="1.5" fill="#bbb" filter="url(#f06)"/>
<circle cx="575" cy="1289" r="1.3" fill="#aaa" filter="url(#f06)"/>
<circle cx="520" cy="1292" r="1.2" fill="#999" filter="url(#f06)"/>
</g>
<path d="M349.5,1262.5 V1255.2 L402,1252.6 V1261" stroke="#fff" stroke-width="4.5" fill="none" stroke-linejoin="miter" filter="url(#f06)"/>
<path d="M518.7,1244.8 L529.6,1249.8 L541,1244.8 L532.6,1273.6 Z" fill="#fff" filter="url(#f06)"/>
<path d="M655.2,1294.4 L665,1324.2 L653.7,1319.3 L642.8,1324.2 Z" fill="#fff" filter="url(#f06)"/>
<path d="M631.6,1368.9 H672.2" stroke="#fff" stroke-width="5" filter="url(#f06)"/>
<text x="363.94" y="1182.30" font-size="30.25" font-weight="bold" fill="#fff" textLength="17.69" lengthAdjust="spacingAndGlyphs" xml:space="preserve">F</text>
<text x="548.44" y="1180.40" font-size="26.00" font-style="italic" fill="#fff" textLength="131.77" lengthAdjust="spacingAndGlyphs" xml:space="preserve">let-23(sy1),</text>
<text x="551.39" y="1212.20" font-size="26.00" fill="#fff" textLength="128.60" lengthAdjust="spacingAndGlyphs" xml:space="preserve">unstressed</text>
</svg></body></html>
